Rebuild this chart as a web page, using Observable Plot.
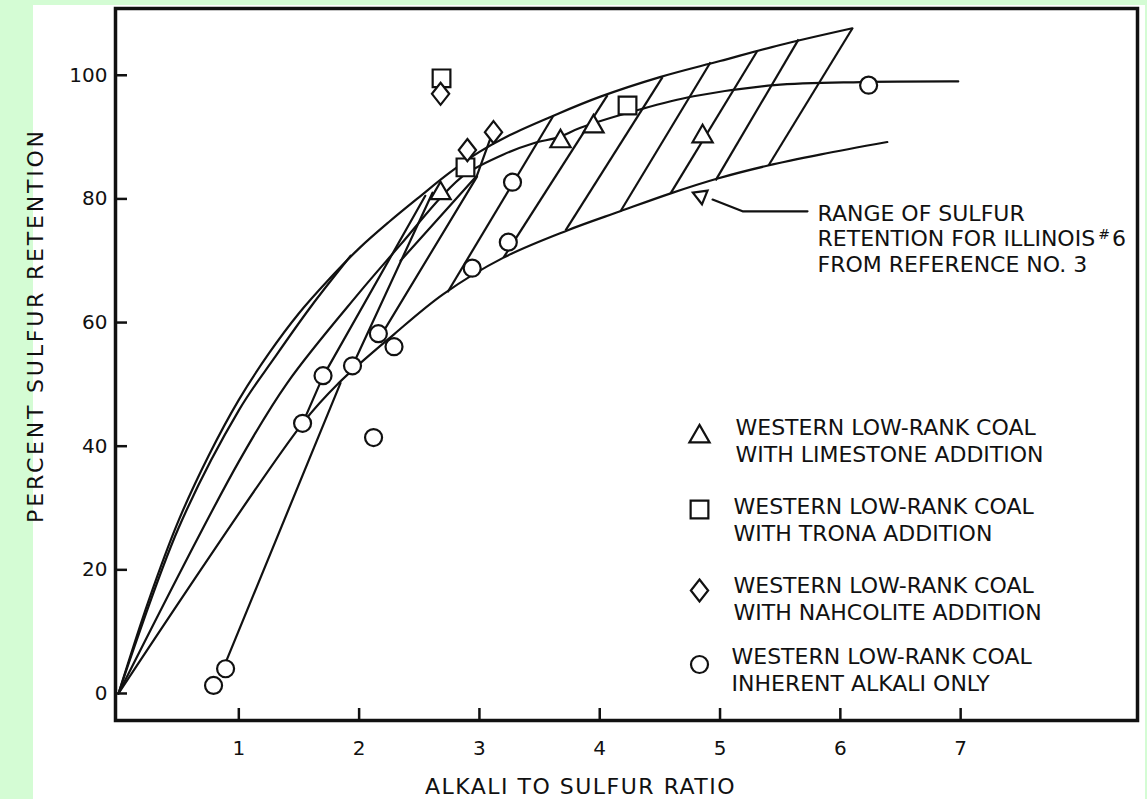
<!DOCTYPE html>
<html><head><meta charset="utf-8">
<script src="https://cdn.jsdelivr.net/npm/d3@7"></script>
<script src="https://cdn.jsdelivr.net/npm/@observablehq/plot@0.6"></script>
<style>
html,body{margin:0;padding:0;background:#d4fcd4;overflow:hidden;}
#panel{position:absolute;left:33px;top:5px;width:1112px;height:794px;background:#fff;}
#chart{position:absolute;left:0;top:0;}
</style></head><body>
<div id="panel"></div><div id="chart"></div>
<script>
// ---- axis ticks ----
const xTicks = [1, 2, 3, 4, 5, 6, 7];
const yTicks = [0, 20, 40, 60, 80, 100];

// ---- data points ----
const inherent = [[0.79,1.3],[0.89,4.0],[1.53,43.7],[1.70,51.4],[1.945,53.0],[2.12,41.4],[2.16,58.2],[2.29,56.1],[2.94,68.8],[3.24,73.0],[3.275,82.7],[6.235,98.4]];
const limestone = [[2.677,80.9],[3.674,89.3],[3.948,91.7],[4.855,90.1]];
const trona = [[2.685,99.5],[2.884,85.1],[4.231,95.1]];
const nahcolite = [[2.677,97.0],[2.90,87.9],[3.117,90.8]];

// ---- curves ----
const upperCurve = [[0,0],[0.25,15],[0.5,28],[0.75,38.5],[1.0,47.5],[1.25,55],[1.5,61.5],[1.75,67],[2.0,72],[2.25,76.3],[2.5,80.3],[2.75,84.2],[3.0,87.6],[3.25,90.3],[3.62,93.5],[4.0,96.5],[4.5,99.7],[5.0,102.3],[5.5,104.9],[6.1,107.6]];
const innerCurve = [[0,0],[0.5,26.8],[1.0,45.8],[1.3,54.4],[1.6,62.6],[1.93,70.8]];
const dataCurve = [[0,0],[1.0,37.5],[1.405,50.3],[2.0,64.8],[2.344,72.6],[2.677,80.2],[2.884,84.0],[3.2,87.2],[3.45,89.0],[3.66,90.0],[3.84,91.5],[4.34,94.5],[4.78,96.6],[5.45,98.4],[6.17,98.9],[6.98,99.0]];
const lowerCurve = [[0,0],[1.53,43.7],[1.83,50.2],[2.29,58.1],[2.70,64.6],[3.2,70.5],[3.73,74.9],[4.17,78.0],[4.59,80.9],[4.98,83.3],[5.40,85.4],[5.84,87.2],[6.39,89.2]];

// ---- hatch lines (bottom on lower curve, top on upper curve) ----
const hatchBottom = [[5.403,85.4],[4.963,83.0],[4.589,80.9],[4.173,78.0],[3.716,74.9],[3.200,70.5],[2.735,64.9]];
const hatchTop = [[6.101,107.6],[5.653,105.8],[5.312,104.0],[4.921,102.1],[4.522,99.7],[4.065,96.8],[3.616,93.5]];

// ---- connecting lines on the left ----
const links = [
  [[0.88,4.5],[1.845,50.2]],
  [[1.53,43.7],[1.70,51.3],[2.55,80.5]],
  [[1.945,53.0],[2.61,81.0]],
  [[2.20,58.5],[2.98,83.6]],
  [[2.344,70.0],[2.98,83.8],[3.11,90.8]]
];

// ---- annotation ----
const leader = [[5.727,78.0],[5.187,78.0],[4.938,79.9]];
const arrowTip = [[4.84,80.5]];
const noteLines = "RANGE OF SULFUR\nRETENTION FOR ILLINOIS #6\nFROM REFERENCE NO. 3";

// ---- legend ----
const legendSymbols = ["triangle", "square", "diamond", "circle"];
const legendLabels = [
  "WESTERN LOW-RANK COAL\nWITH LIMESTONE ADDITION",
  "WESTERN LOW-RANK COAL\nWITH TRONA ADDITION",
  "WESTERN LOW-RANK COAL\nWITH NAHCOLITE ADDITION",
  "WESTERN LOW-RANK COAL\nINHERENT ALKALI ONLY"
];
const xTitle = "ALKALI TO SULFUR RATIO";
const yTitle = "PERCENT SULFUR RETENTION";

// ---- layout (pixels, not data) ----
const wideDiamond = {
  draw(ctx, size) {
    const s = Math.sqrt(size / Math.PI);
    ctx.moveTo(0, -1.47 * s); ctx.lineTo(1.15 * s, 0); ctx.lineTo(0, 1.47 * s); ctx.lineTo(-1.15 * s, 0); ctx.closePath();
  }
};
const symbolShape = {triangle: "triangle", square: "square", diamond: wideDiamond, circle: "circle"};
const symbolSize = {triangle: 7.5, square: 10, diamond: 7.5, circle: 8.5};
const legendSymbolDy = [428, 501, 582, 656];
const legendTextDy = [431, 510, 589, 660.5];
const legendTextDx = [620, 618, 618, 616];

const ink = "#111";
const lw = 2.2;
const marks = [];
const XY = {x: d => d[0], y: d => d[1]};

marks.push(Plot.line(upperCurve, {...XY, curve: "catmull-rom", stroke: ink, strokeWidth: lw}));
marks.push(Plot.line(innerCurve, {...XY, curve: "catmull-rom", stroke: ink, strokeWidth: lw}));
marks.push(Plot.line(dataCurve, {...XY, curve: "catmull-rom", stroke: ink, strokeWidth: lw}));
marks.push(Plot.line(lowerCurve, {...XY, curve: "catmull-rom", stroke: ink, strokeWidth: lw}));
marks.push(Plot.link(hatchBottom.map((b, i) => [b, hatchTop[i]]), {x1: d => d[0][0], y1: d => d[0][1], x2: d => d[1][0], y2: d => d[1][1], stroke: ink, strokeWidth: lw}));
links.forEach(l => marks.push(Plot.line(l, {...XY, stroke: ink, strokeWidth: lw})));
marks.push(Plot.line(leader, {...XY, stroke: ink, strokeWidth: lw}));
marks.push(Plot.dot(arrowTip, {...XY, symbol: "triangle", r: 5.5, rotate: 172, stroke: ink, strokeWidth: lw, fill: "white"}));

const series = [[limestone, "triangle"], [trona, "square"], [nahcolite, "diamond"], [inherent, "circle"]];
series.forEach(([pts, sym]) => marks.push(Plot.dot(pts, {...XY, symbol: symbolShape[sym], r: symbolSize[sym], stroke: ink, strokeWidth: lw, fill: "white"})));

// frame, ticks, labels
marks.push(Plot.frame({stroke: ink, strokeWidth: 3.5}));
marks.push(Plot.ruleX(xTicks, {x: d => d, insetTop: 700, stroke: ink, strokeWidth: 2.5}));
marks.push(Plot.ruleY(yTicks, {y: d => d, insetRight: 1010, stroke: ink, strokeWidth: 2.5}));
marks.push(Plot.axisX(xTicks, {tickSize: 0, tickPadding: 20, fontSize: 20, label: null, tickFormat: d => String(d)}));
marks.push(Plot.axisY(yTicks, {tickSize: 0, tickPadding: 8, fontSize: 20, label: null, tickFormat: d => String(d)}));
marks.push(Plot.text([xTitle], {text: d => d, frameAnchor: "bottom", textAnchor: "middle", lineAnchor: "middle", dx: -46, dy: 66, fontSize: 22, fill: ink}));
marks.push(Plot.text([yTitle], {text: d => d, frameAnchor: "left", textAnchor: "middle", lineAnchor: "middle", rotate: -90, dx: -80, dy: -39, fontSize: 22, fill: ink}));
marks.push(Plot.text([noteLines], {text: d => d, frameAnchor: "top-left", textAnchor: "start", lineAnchor: "middle", dx: 702, dy: 229.5, fontSize: 22, lineHeight: 1.16, fill: ink}));

legendLabels.forEach((lab, i) => {
  const sym = legendSymbols[i];
  marks.push(Plot.dot([sym], {symbol: () => symbolShape[sym], frameAnchor: "top-left", dx: 584, dy: legendSymbolDy[i], r: symbolSize[sym], stroke: ink, strokeWidth: lw, fill: "white"}));
  marks.push(Plot.text([lab], {text: d => d, frameAnchor: "top-left", textAnchor: "start", lineAnchor: "middle", dx: legendTextDx[i], dy: legendTextDy[i], fontSize: 22, lineHeight: 1.23, fill: ink}));
});

const svg = Plot.plot({
  width: 1147, height: 799,
  marginLeft: 115, marginRight: 10, marginTop: 8, marginBottom: 79,
  x: {domain: [-0.025, 8.47]},
  y: {domain: [-4.37, 110.8]},
  symbol: {type: "identity"},
  style: {background: "transparent", fontFamily: "'DejaVu Sans', sans-serif", color: ink, overflow: "visible"},
  marks
});
document.getElementById("chart").appendChild(svg);

const d3svg = d3.select(svg);
d3svg.selectAll("text").each(function() {
  const t = this.textContent;
  if (t === xTitle) d3.select(this).attr("letter-spacing", "1.5px");
  else if (t === yTitle) d3.select(this).attr("letter-spacing", "2.8px");
});
d3svg.selectAll("tspan").each(function() {
  const t = this.textContent;
  if (t === "RETENTION FOR ILLINOIS #6") {
    const s = d3.select(this);
    s.text("RETENTION FOR ILLINOIS");
    s.append("tspan").attr("font-size", 14).attr("dx", 3).attr("dy", -7).text("#");
    s.append("tspan").attr("dy", 7).attr("dx", 2).text("6");
  }
});
</script>
</body></html>
